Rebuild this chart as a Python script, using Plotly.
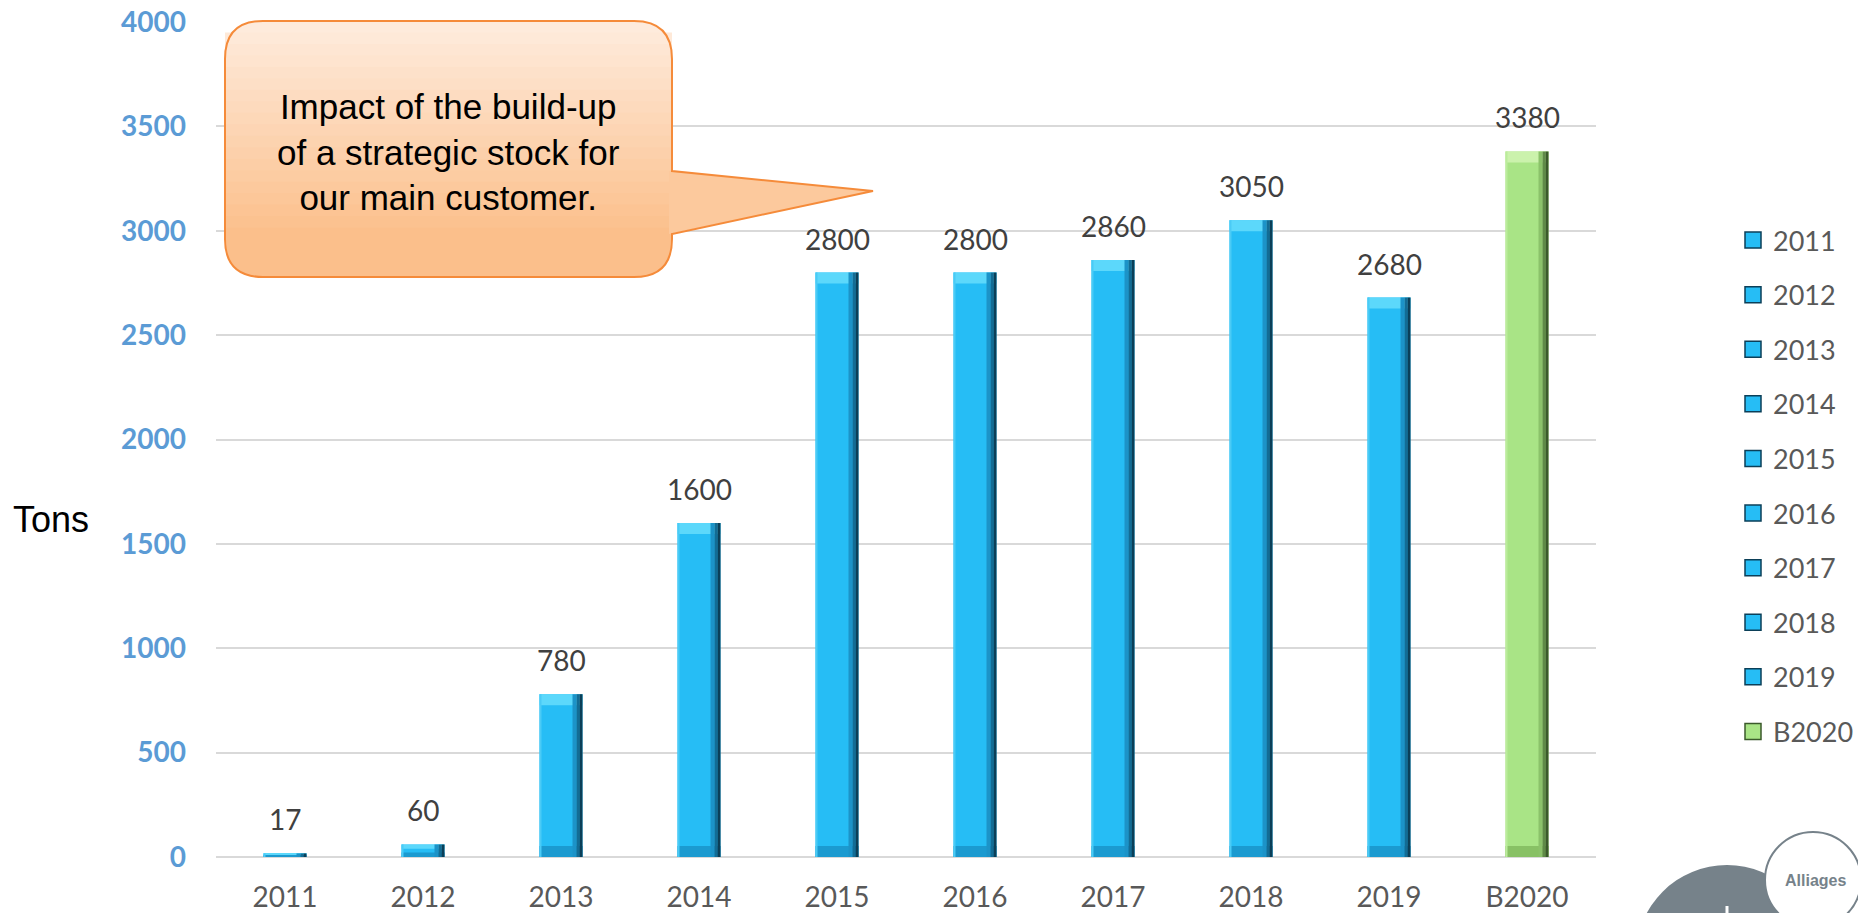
import plotly.graph_objects as go

# ---------------- data ----------------
categories = ["2011", "2012", "2013", "2014", "2015", "2016", "2017", "2018", "2019", "B2020"]
values = [17, 60, 780, 1600, 2800, 2800, 2860, 3050, 2680, 3380]
is_budget = [False, False, False, False, False, False, False, False, False, True]
y_ticks = [0, 500, 1000, 1500, 2000, 2500, 3000, 3500, 4000]
y_title = "Tons"
callout_text = "Impact of the build-up<br>of a strategic stock for<br>our main customer."
logo_text = "Alliages"

# ---------------- geometry / style ----------------
W, H = 1858, 913
ML, MR, MT, MB = 216, 262, 22, 56
PW, PH = W - ML - MR, H - MT - MB
Y_MAX = 4000
cat_px = PW / len(categories)
unit_per_px = Y_MAX / PH
bar_w = 43 / cat_px


def px_x(px):
    return (px - ML) / PW


def px_y(py):
    return (H - MB - py) / PH


BLUE = dict(main="#26BDF5", cap="#5CD8FB", foot="#1B9AD0", l="#4ACBF6",
            r1="#1C93C8", r2="#136C95", r3="#0B3F58")
GREEN = dict(main="#A9E486", cap="#CBF2AC", foot="#88C165", l="#BBEC9C",
             r1="#8BC26A", r2="#5F8A47", r3="#3B5A2B")
pal = [GREEN if b else BLUE for b in is_budget]

TICK_FONT = "Lato, 'Open Sans', sans-serif"
ARIAL = "Arial, 'Liberation Sans', sans-serif"

fig = go.Figure()

# main bars
fig.add_trace(go.Bar(x=categories, y=values, width=bar_w, offset=-bar_w / 2,
                     marker=dict(color=[p["main"] for p in pal], line=dict(width=0)),
                     showlegend=False, hoverinfo="skip"))

# bevel: top cap and bottom foot
cap_units = [min(11 * unit_per_px, 0.35 * v) for v in values]
fig.add_trace(go.Bar(x=categories, y=cap_units, base=[v - c for v, c in zip(values, cap_units)],
                     width=bar_w, offset=-bar_w / 2,
                     marker=dict(color=[p["cap"] for p in pal], line=dict(width=0)),
                     showlegend=False, hoverinfo="skip"))
fig.add_trace(go.Bar(x=categories, y=cap_units, base=[0] * len(values),
                     width=bar_w, offset=-bar_w / 2,
                     marker=dict(color=[p["foot"] for p in pal], line=dict(width=0)),
                     showlegend=False, hoverinfo="skip"))

# left highlight and right shading strips
strips = [(0, 2, "l"), (33, 4, "r1"), (37, 3, "r2"), (40, 3, "r3")]
for off_px, w_px, key in strips:
    fig.add_trace(go.Bar(x=categories, y=values, width=w_px / cat_px,
                         offset=-bar_w / 2 + off_px / cat_px,
                         marker=dict(color=[p[key] for p in pal], line=dict(width=0)),
                         showlegend=False, hoverinfo="skip"))

# legend entries
for cat, p in zip(categories, pal):
    fig.add_trace(go.Scatter(x=[cat], y=[None], mode="markers", name=cat, legendgroup=cat,
                             marker=dict(symbol="square", size=16, color=p["main"],
                                         line=dict(color=p["r3"], width=1.5)),
                             hoverinfo="skip"))

annotations = []
# value labels (x given as category index so "2011" is not read as a number)
for i, v in enumerate(values):
    annotations.append(dict(x=i, y=v, xref="x", yref="y", text=str(v), showarrow=False,
                            yanchor="middle", yshift=34,
                            font=dict(family=TICK_FONT, size=28, color="#404040")))
# y title
annotations.append(dict(x=px_x(51), y=px_y(519), xref="paper", yref="paper", text=y_title,
                        showarrow=False, xanchor="center", yanchor="middle",
                        font=dict(family=ARIAL, size=36, color="black")))
# callout text
annotations.append(dict(x=px_x(448.5), y=px_y(152), xref="paper", yref="paper", text=callout_text,
                        showarrow=False, xanchor="center", yanchor="middle", align="center",
                        font=dict(family=ARIAL, size=35, color="black")))
# logo text
annotations.append(dict(x=px_x(1815), y=px_y(880), xref="paper", yref="paper", text="<b>" + logo_text + "</b>",
                        showarrow=False, xanchor="center", yanchor="middle",
                        font=dict(family=ARIAL, size=16, color="#76828A")))

# ---------------- callout shape ----------------
cL, cR, cT, cB, cr = 225, 672, 21, 277, 38
tail = [(672, 171), (873, 191), (672, 234)]


def P(x, y):
    return f"{px_x(x):.5f},{px_y(y):.5f}"


def rr_path(with_tail):
    s = f"M{P(cL + cr, cT)} L{P(cR - cr, cT)} Q{P(cR, cT)} {P(cR, cT + cr)} "
    if with_tail:
        s += f"L{P(*tail[0])} L{P(*tail[1])} L{P(*tail[2])} "
    s += f"L{P(cR, cB - cr)} Q{P(cR, cB)} {P(cR - cr, cB)} L{P(cL + cr, cB)} "
    s += f"Q{P(cL, cB)} {P(cL, cB - cr)} L{P(cL, cT + cr)} Q{P(cL, cT)} {P(cL + cr, cT)} Z"
    return s


def mix(c1, c2, t):
    a = [int(c1[i:i + 2], 16) for i in (1, 3, 5)]
    b = [int(c2[i:i + 2], 16) for i in (1, 3, 5)]
    return "#" + "".join(f"{round(x + (y - x) * t):02X}" for x, y in zip(a, b))


TOP_C, BOT_C, EDGE = "#FEEBDC", "#FBBC85", "#F58B3A"
shapes = [dict(type="path", xref="paper", yref="paper", path=rr_path(True),
               fillcolor=TOP_C, line=dict(width=0), layer="above")]
N = 18
for k in range(1, N + 1):
    yk = cT + cr * 0.3 + (cB - cr - cT - cr * 0.3) * (k - 1) / N
    t = (yk - cT) / (cB - cT)
    col = mix(TOP_C, BOT_C, min(1.0, t * 1.15))
    path = (f"M{P(cL, yk)} L{P(cR, yk)} L{P(cR, cB - cr)} Q{P(cR, cB)} {P(cR - cr, cB)} "
            f"L{P(cL + cr, cB)} Q{P(cL, cB)} {P(cL, cB - cr)} Z")
    shapes.append(dict(type="path", xref="paper", yref="paper", path=path,
                       fillcolor=col, line=dict(width=0), layer="above"))
shapes.append(dict(type="path", xref="paper", yref="paper",
                   path=f"M{P(cR - 3, tail[0][1])} L{P(*tail[1])} L{P(cR - 3, tail[2][1])} Z",
                   fillcolor=mix(TOP_C, BOT_C, 0.72), line=dict(width=0), layer="above"))
shapes.append(dict(type="path", xref="paper", yref="paper", path=rr_path(True),
                   fillcolor="rgba(0,0,0,0)", line=dict(color=EDGE, width=2), layer="above"))

# ---------------- logo ----------------
shapes.append(dict(type="circle", xref="paper", yref="paper",
                   x0=px_x(1636), x1=px_x(1818), y0=px_y(865), y1=px_y(1047),
                   fillcolor="#76828A", line=dict(width=0), layer="above"))
shapes.append(dict(type="line", xref="paper", yref="paper",
                   x0=px_x(1727), x1=px_x(1727), y0=px_y(906), y1=px_y(913),
                   line=dict(color="white", width=3), layer="above"))
shapes.append(dict(type="circle", xref="paper", yref="paper",
                   x0=px_x(1765), x1=px_x(1861), y0=px_y(832), y1=px_y(928),
                   fillcolor="white", line=dict(color="#76828A", width=2), layer="above"))

fig.update_layout(
    width=W, height=H,
    margin=dict(l=ML, r=MR, t=MT, b=MB, pad=0, autoexpand=False),
    paper_bgcolor="white", plot_bgcolor="white",
    barmode="overlay",
    showlegend=True,
    legend=dict(x=px_x(1733), xanchor="left", y=px_y(216), yanchor="top",
                font=dict(family=TICK_FONT, size=27, color="#595959"),
                tracegroupgap=16.5, bgcolor="rgba(0,0,0,0)", borderwidth=0),
    xaxis=dict(type="category", categoryorder="array", categoryarray=categories,
               showgrid=False, showline=False, zeroline=False, ticks="",
               tickfont=dict(family=TICK_FONT, size=28, color="#595959"),
               ticklabelstandoff=21, range=[-0.5, len(categories) - 0.5]),
    yaxis=dict(range=[0, Y_MAX], tickvals=y_ticks, ticktext=[str(t) for t in y_ticks],
               showgrid=True, gridcolor="#D9D9D9", gridwidth=1.5,
               zeroline=True, zerolinecolor="#D9D9D9", zerolinewidth=1.5,
               showline=False, ticks="",
               tickfont=dict(family=TICK_FONT, size=28, color="#5B9BD5", weight="bold"),
               ticklabelstandoff=29),
    annotations=annotations,
    shapes=shapes,
    hovermode=False,
)

fig.write_html("out.html", config={"displayModeBar": False},
               post_script="document.body.style.margin='0';document.body.style.overflow='hidden';")
